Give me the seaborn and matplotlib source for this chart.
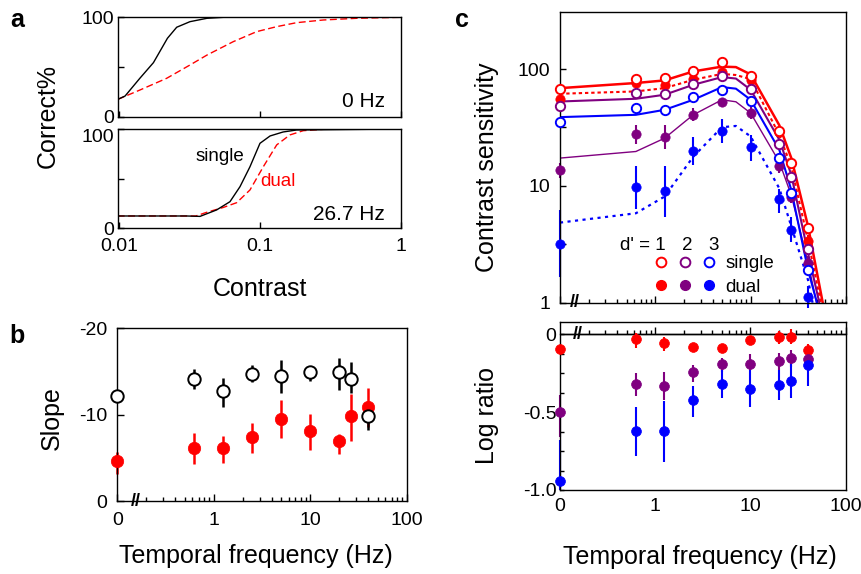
import numpy as np
import matplotlib
matplotlib.use("Agg")
import matplotlib.pyplot as plt
import matplotlib.transforms as mtransforms
from matplotlib.lines import Line2D
from matplotlib.ticker import LogLocator, NullFormatter, FixedLocator
import seaborn as sns

sns.set_style("ticks")
plt.rcParams["font.family"] = ["Liberation Sans", "DejaVu Sans"]
plt.rcParams["axes.unicode_minus"] = False
plt.rcParams["axes.linewidth"] = 1.0
plt.rcParams["axes.edgecolor"] = "black"
for key in ["text.color", "axes.labelcolor", "xtick.color", "ytick.color"]:
    plt.rcParams[key] = "black"

RED = "#ff0000"
PURPLE = "#800080"
BLUE = "#0000ff"

# ---- panel a: psychometric functions (contrast, % correct) ----
c0_single = [0.00975, 0.011, 0.014, 0.0175, 0.022, 0.0256, 0.0318, 0.042, 0.055, 1.0]
p0_single = [17.4, 20.8, 38.6, 54.4, 78.9, 90, 95.6, 99, 100, 100]
c0_dual = [0.00975, 0.014, 0.0217, 0.0318, 0.042, 0.0646, 0.0948, 0.1315, 0.182, 0.282, 0.486, 1.0]
p0_dual = [17.4, 26.8, 38.6, 52, 62, 75.5, 85.6, 90.6, 94.6, 97.3, 99, 100]
c27_single = [0.00975, 0.03, 0.0375, 0.0492, 0.0612, 0.0721, 0.0849, 0.1, 0.118, 0.146, 0.182, 1.0]
p27_single = [12.4, 12.4, 12.0, 18.5, 26.8, 41.9, 62, 85.6, 93, 97, 99, 100]
c27_dual = [0.00975, 0.035, 0.0418, 0.0549, 0.0683, 0.0849, 0.1056, 0.1315, 0.163, 0.203, 0.282, 1.0]
p27_dual = [12.4, 12.4, 16.1, 21, 25.8, 38.6, 62, 84, 94, 98.3, 99.7, 100]

# ---- temporal frequencies (0 Hz is drawn at the left edge, 0.1) ----
freq_hz = [0, 0.625, 1.25, 2.5, 5, 10, 20, 26.7, 40]
ZERO_POS = 0.1
tf = [ZERO_POS if f == 0 else f for f in freq_hz]

# ---- panel b: slopes ----
slope_single = [-12.2, -14.1, -12.7, -14.7, -14.5, -14.9, -14.9, -14.1, -9.8]
slope_single_lo = [-12.4, -15.3, -14.3, -15.8, -16.3, -15.4, -16.6, -16.1, -10.9]
slope_single_hi = [-12.0, -13.0, -10.9, -13.8, -12.5, -13.9, -12.9, -12.5, -8.2]
slope_dual = [-4.6, -6.1, -6.1, -7.45, -9.5, -8.1, -6.9, -9.8, -10.9]
slope_dual_lo = [-5.7, -7.9, -7.5, -9.0, -11.7, -10.1, -7.8, -12.4, -13.1]
slope_dual_hi = [-3.1, -4.3, -4.4, -5.6, -7.3, -5.9, -5.5, -6.9, -8.6]

# ---- panel c: contrast sensitivity ----
cs_single_d1 = [67, 82, 84, 97, 116, 88, 29.6, 15.7, 4.34]
cs_dual_d1 = [55.6, 75.9, 73, 83, 94, 81, 29, 15.6, 3.4]
cs_dual_d1_lo = [52, 71, 68, 78, 88, 76, 27, 14.4, 3.1]
cs_dual_d1_hi = [59, 81, 79, 88, 100, 86, 31.5, 17, 3.8]
cs_single_d2 = [48.5, 62, 61, 75, 86.5, 67.8, 22.8, 11.9, 2.9]
cs_dual_d2 = [13.7, 27.7, 26.1, 40.6, 52, 42, 14.9, 8.1, 2.2]
cs_dual_d2_lo = [11.8, 22.9, 20.6, 36, 47, 37.5, 13, 7.2, 1.9]
cs_dual_d2_hi = [15.6, 33.2, 33.2, 46, 57, 47, 17, 9.1, 2.5]
cs_single_d3 = [34.9, 46.9, 44.8, 57.5, 65.6, 52.8, 17.4, 8.65, 1.9]
cs_dual_d3 = [3.2, 9.7, 9.1, 20, 29.6, 21.7, 7.7, 4.2, 1.13]
cs_dual_d3_lo = [1.65, 6.3, 5.46, 15.1, 23.2, 16.4, 5.9, 3.33, 0.9]
cs_dual_d3_hi = [6.2, 14.8, 14.8, 26.1, 37.3, 27.3, 9.4, 5.46, 1.4]

# fitted curves
fit_freq = [0.1, 0.625, 1.25, 2.5, 5, 7, 10, 20, 26.7, 40]
fit_single_d1 = [68.7, 76, 80, 95.5, 105, 104, 90, 33, 17.3, 4.5]
fit_dual_d1 = [61.5, 64.4, 68.7, 81, 91, 89, 82, 27.3, 14.6, 3.4]
fit_single_d2 = [52.8, 55.7, 60.3, 73.4, 85.4, 83, 66.5, 24.8, 12.4, 2.65]
fit_dual_d2 = [17.3, 19.7, 25.6, 40.6, 54.6, 52.5, 42, 16, 8.3, 2.2]
fit_single_d3 = [38.8, 40.6, 44.8, 54.6, 70.1, 68, 54.6, 20.3, 9.2, 1.9]
fit_dual_d3 = [4.85, 5.83, 8.1, 17.8, 31.8, 32.6, 26.5, 9.5, 4.5, 1.56]
fit_end = {"s1": 57, "d1": 54.5, "s2": 52.5, "d2": 49, "s3": 49.6, "d3": 44.6}

# ---- panel c lower: log ratio dual / single ----
lr_d1 = [-0.095, -0.03, -0.054, -0.08, -0.086, -0.037, -0.015, -0.02, -0.10]
lr_d1_lo = [-0.12, -0.09, -0.11, -0.1, -0.1, -0.07, -0.06, -0.06, -0.13]
lr_d1_hi = [-0.07, 0.006, -0.02, -0.06, -0.07, -0.01, 0.02, 0.03, -0.06]
lr_d2 = [-0.50, -0.32, -0.333, -0.245, -0.194, -0.19, -0.17, -0.155, -0.16]
lr_d2_lo = [-0.66, -0.396, -0.42, -0.31, -0.24, -0.23, -0.23, -0.21, -0.2]
lr_d2_hi = [-0.39, -0.246, -0.24, -0.2, -0.15, -0.13, -0.12, -0.1, -0.12]
lr_d3 = [-0.94, -0.624, -0.624, -0.42, -0.32, -0.355, -0.327, -0.30, -0.20]
lr_d3_lo = [-1.0, -0.78, -0.82, -0.53, -0.41, -0.47, -0.42, -0.41, -0.33]
lr_d3_hi = [-0.68, -0.47, -0.43, -0.33, -0.23, -0.23, -0.23, -0.19, -0.12]

W, H = 861, 574
fig = plt.figure(figsize=(W / 100, H / 100), dpi=100)


def rect(l, t, r, b):
    return [l / W, 1 - b / H, (r - l) / W, (b - t) / H]


def errbars(ax, x, y, lo, hi, col, lw=1.5):
    yerr = [np.subtract(y, lo), np.subtract(hi, y)]
    ax.errorbar(x, y, yerr=yerr, fmt="none", ecolor=col, elinewidth=lw,
                capsize=0, zorder=2, clip_on=False)


def dots(ax, x, y, col, open_=False, s=45):
    if open_:
        sns.scatterplot(x=x, y=y, ax=ax, color="white", edgecolor=col, linewidth=1.4,
                        s=s, zorder=5, clip_on=False)
    else:
        sns.scatterplot(x=x, y=y, ax=ax, color=col, edgecolor=col, linewidth=0.5,
                        s=s, zorder=4, clip_on=False)


def tf_axis(ax, labels=True, ticks=True):
    ax.set_xscale("log")
    ax.set_xlim(0.1, 100)
    ax.set_xticks([0.1, 1, 10, 100])
    ax.set_xticklabels(["0", "1", "10", "100"] if labels else [])
    ax.xaxis.set_minor_locator(LogLocator(base=10, subs=np.arange(2, 10)))
    ax.xaxis.set_minor_formatter(NullFormatter())
    ax.tick_params(axis="x", which="major", direction="in", length=5 if ticks else 0,
                   width=1, labelsize=14)
    ax.tick_params(axis="x", which="minor", direction="in", length=3 if ticks else 0, width=1)


def brk(ax, x, y, trans):
    ax.text(x, y, "//", transform=trans, ha="center", va="center", fontsize=13,
            fontweight="bold", clip_on=False, zorder=6)


# ---------------- panel a ----------------
ax_a0 = fig.add_axes(rect(117.7, 17.3, 400.7, 116.7))
ax_a1 = fig.add_axes(rect(117.7, 129, 400.7, 228.3))
for ax, cs, ps, cd, pd_ in [(ax_a0, c0_single, p0_single, c0_dual, p0_dual),
                            (ax_a1, c27_single, p27_single, c27_dual, p27_dual)]:
    ax.set_xscale("log")
    sns.lineplot(x=cd, y=pd_, ax=ax, color=RED, lw=1.0, linestyle=(0, (5, 2.5)),
                 errorbar=None, sort=False)
    sns.lineplot(x=cs, y=ps, ax=ax, color="black", lw=1.0, errorbar=None, sort=False)
    ax.set_xlim(0.00975, 1)
    ax.set_ylim(0, 100)
    ax.set_yticks([0, 100])
    ax.set_yticklabels(["0", "100"])
    ax.yaxis.set_minor_locator(FixedLocator([50]))
    ax.set_xticks([0.01, 0.1, 1])
    ax.xaxis.set_minor_locator(FixedLocator([]))
    ax.tick_params(which="both", direction="in", length=4, width=1, labelsize=14)
    ax.tick_params(axis="y", pad=2.5)
    ax.tick_params(axis="x", pad=7)
    ax.set_xlabel("")
    ax.set_ylabel("")
ax_a0.set_xticklabels([])
ax_a1.set_xticklabels(["0.01", "0.1", "1"])
# keep the bottom panel's "100" clear of the upper panel's "0"
ax_a1.get_yticklabels()[1].set_verticalalignment("top")
ax_a0.get_yticklabels()[0].set_verticalalignment("center_baseline")
ax_a0.text(0.944, 0.15, "0 Hz", transform=ax_a0.transAxes, ha="right", va="center", fontsize=15)
ax_a1.text(0.944, 0.135, "26.7 Hz", transform=ax_a1.transAxes, ha="right", va="center", fontsize=15)
ax_a1.text(0.361, 0.72, "single", transform=ax_a1.transAxes, ha="center", va="center",
           fontsize=13.5, color="black")
ax_a1.text(0.567, 0.47, "dual", transform=ax_a1.transAxes, ha="center", va="center",
           fontsize=13.5, color=RED)

# ---------------- panel b ----------------
ax_b = fig.add_axes(rect(117.3, 328.3, 406.7, 501))
tf_axis(ax_b)
errbars(ax_b, tf, slope_dual, slope_dual_lo, slope_dual_hi, RED, lw=1.8)
errbars(ax_b, tf, slope_single, slope_single_lo, slope_single_hi, "black", lw=1.8)
dots(ax_b, tf, slope_dual, RED, s=80)
dots(ax_b, tf, slope_single, "black", open_=True, s=80)
ax_b.set_ylim(0, -20)
ax_b.set_yticks([0, -10, -20])
ax_b.set_yticklabels(["0", "-10", "-20"])
ax_b.tick_params(axis="y", direction="in", length=5, width=1, labelsize=14, pad=7)
ax_b.tick_params(axis="x", pad=8)
ax_b.set_xlabel("")
ax_b.set_ylabel("")
brk(ax_b, 0.155, 0, mtransforms.blended_transform_factory(ax_b.transData, ax_b.transAxes))

# ---------------- panel c top ----------------
ax_c = fig.add_axes(rect(560, 11.7, 846, 302.7))
tf_axis(ax_c, labels=False)
ax_c.set_yscale("log")
curves = [
    (fit_single_d1, "s1", RED, 1.8, "-"),
    (fit_dual_d1, "d1", RED, 1.5, (0, (1.6, 1.4))),
    (fit_single_d2, "s2", PURPLE, 1.5, "-"),
    (fit_dual_d2, "d2", PURPLE, 1.0, "-"),
    (fit_single_d3, "s3", BLUE, 1.5, "-"),
    (fit_dual_d3, "d3", BLUE, 1.6, (0, (1.4, 2))),
]
for yv, key, col, lw, ls in curves:
    sns.lineplot(x=fit_freq + [fit_end[key]], y=yv + [1.0], ax=ax_c, color=col, lw=lw,
                 linestyle=ls, errorbar=None, sort=False, zorder=1)
for lo, hi, y, col in [(cs_dual_d1_lo, cs_dual_d1_hi, cs_dual_d1, RED),
                       (cs_dual_d2_lo, cs_dual_d2_hi, cs_dual_d2, PURPLE),
                       (cs_dual_d3_lo, cs_dual_d3_hi, cs_dual_d3, BLUE)]:
    errbars(ax_c, tf, y, lo, hi, col)
    dots(ax_c, tf, y, col)
for y, col in [(cs_single_d1, RED), (cs_single_d2, PURPLE), (cs_single_d3, BLUE)]:
    dots(ax_c, tf, y, col, open_=True)
ax_c.set_ylim(1, 310)
ax_c.set_yticks([1, 10, 100])
ax_c.set_yticklabels(["1", "10", "100"])
ax_c.yaxis.set_minor_locator(FixedLocator([10 ** 0.5, 10 ** 1.5]))
ax_c.yaxis.set_minor_formatter(NullFormatter())
ax_c.tick_params(axis="y", which="both", direction="in", length=4, width=1, labelsize=14, pad=7)
ax_c.set_xlabel("")
ax_c.set_ylabel("")
brk(ax_c, 0.144, 0, mtransforms.blended_transform_factory(ax_c.transData, ax_c.transAxes))

mk = dict(ls="none", marker="o", ms=7)
handles = [
    Line2D([], [], mfc="white", mec=RED, mew=1.4, **mk),
    Line2D([], [], mfc=RED, mec=RED, **mk),
    Line2D([], [], mfc="white", mec=PURPLE, mew=1.4, **mk),
    Line2D([], [], mfc=PURPLE, mec=PURPLE, **mk),
    Line2D([], [], mfc="white", mec=BLUE, mew=1.4, **mk),
    Line2D([], [], mfc=BLUE, mec=BLUE, **mk),
]
ax_c.legend(handles=handles, labels=["", "", "", "", "single", "dual"], ncol=3,
            loc="upper left", bbox_to_anchor=(0.326, 0.163), frameon=False, fontsize=13.5,
            handlelength=0.8, handletextpad=0.45, columnspacing=0.05, labelspacing=0.33,
            borderpad=0, borderaxespad=0)
ax_c.text(0.371, 0.196, "d' = 1", transform=ax_c.transAxes, ha="right", va="center", fontsize=13.5)
ax_c.text(0.446, 0.196, "2", transform=ax_c.transAxes, ha="center", va="center", fontsize=13.5)
ax_c.text(0.537, 0.196, "3", transform=ax_c.transAxes, ha="center", va="center", fontsize=13.5)

# ---------------- panel c bottom ----------------
ax_r = fig.add_axes(rect(560, 321.7, 845.5, 490))
tf_axis(ax_r, ticks=False)
ax_r.tick_params(axis="x", pad=6)
for lo, hi, y, col in [(lr_d1_lo, lr_d1_hi, lr_d1, RED),
                       (lr_d2_lo, lr_d2_hi, lr_d2, PURPLE),
                       (lr_d3_lo, lr_d3_hi, lr_d3, BLUE)]:
    errbars(ax_r, tf, y, lo, hi, col)
    dots(ax_r, tf, y, col, s=50)
ylo, yhi = -1.0, 0.08
ax_r.set_ylim(ylo, yhi)
ax_r.set_yticks([0, -0.5, -1.0])
ax_r.set_yticklabels(["0", "-0.5", "-1.0"])
ax_r.yaxis.set_minor_locator(FixedLocator([-0.125, -0.25, -0.375, -0.625, -0.75, -0.875]))
ax_r.tick_params(axis="y", which="both", direction="in", length=3, width=1, labelsize=14, pad=2.5)
ax_r.set_xlabel("")
ax_r.set_ylabel("")
# zero line carrying the frequency ticks
ax_r.axhline(0, color="black", lw=1.0, zorder=1)
sec = ax_r.secondary_xaxis((0 - ylo) / (yhi - ylo))
sec.set_xticks([1, 10, 100])
sec.xaxis.set_minor_locator(LogLocator(base=10, subs=np.arange(2, 10)))
sec.xaxis.set_minor_formatter(NullFormatter())
sec.tick_params(axis="x", which="major", direction="out", length=5, width=1,
                labeltop=False, labelbottom=False, top=True, bottom=False)
sec.tick_params(axis="x", which="minor", direction="out", length=3, width=1,
                top=True, bottom=False)
for sp in sec.spines.values():
    sp.set_linewidth(1.0)
brk(ax_r, 0.154, 0, ax_r.transData)

# ---------------- figure labels ----------------
fig.text(17 / W, 1 - 20 / H, "a", fontsize=18, fontweight="bold", ha="center", va="center")
fig.text(17 / W, 1 - 336 / H, "b", fontsize=18, fontweight="bold", ha="center", va="center")
fig.text(462 / W, 1 - 20 / H, "c", fontsize=18, fontweight="bold", ha="center", va="center")
fig.text(47.5 / W, 1 - 116 / H, "Correct%", rotation=90, fontsize=18, ha="center", va="center")
fig.text(260 / W, 1 - 289 / H, "Contrast", fontsize=18, ha="center", va="center")
fig.text(51.7 / W, 1 - 418 / H, "Slope", rotation=90, fontsize=18, ha="center", va="center")
fig.text(256 / W, 1 - 556 / H, "Temporal frequency (Hz)", fontsize=18, ha="center", va="center")
fig.text(487 / W, 1 - 167.5 / H, "Contrast sensitivity", rotation=90, fontsize=18,
         ha="center", va="center")
fig.text(487 / W, 1 - 415 / H, "Log ratio", rotation=90, fontsize=18, ha="center", va="center")
fig.text(700 / W, 1 - 557 / H, "Temporal frequency (Hz)", fontsize=18, ha="center", va="center")

fig.savefig("out.png", dpi=100)
